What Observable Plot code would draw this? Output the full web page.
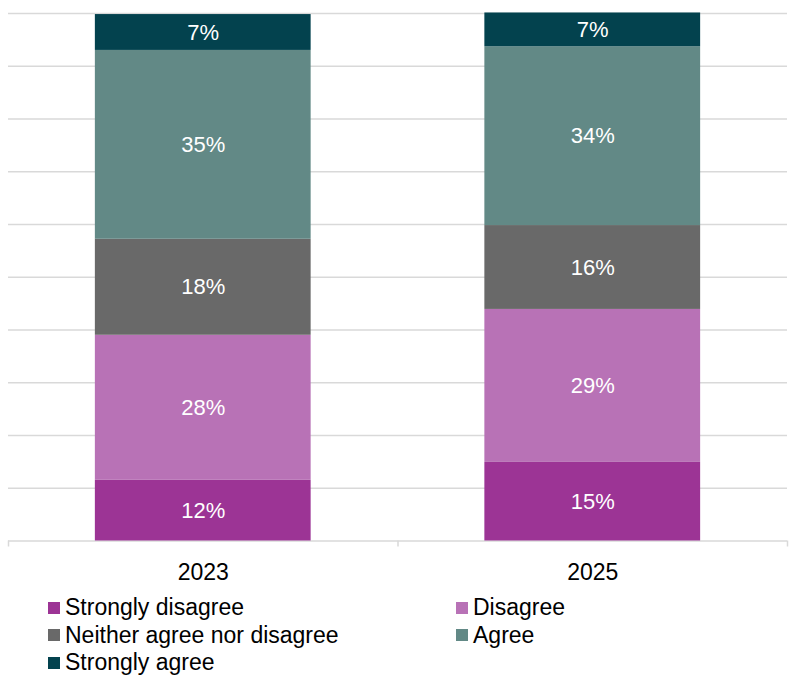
<!DOCTYPE html>
<html>
<head>
<meta charset="utf-8">
<script src="https://cdn.jsdelivr.net/npm/d3@7"></script>
<script src="https://cdn.jsdelivr.net/npm/@observablehq/plot@0.6"></script>
<style>
  html, body { margin: 0; padding: 0; background: #fff; }
  body { width: 794px; font-family: "Liberation Sans", Arial, sans-serif; }
  #legend { display: grid; grid-template-columns: 408px 386px; font-size: 23px; line-height: 27.5px; color: #000; }
  .item { display: flex; align-items: center; padding-left: 48px; }
  .sw { width: 12px; height: 12px; margin-right: 5px; flex: none; }
</style>
</head>
<body>
<div id="chart"></div>
<div id="legend"></div>
<script>
const years = ["2023", "2025"];
const categories = ["Strongly disagree", "Disagree", "Neither agree nor disagree", "Agree", "Strongly agree"];
const colors = ["#9c3495", "#b872b6", "#696969", "#628986", "#03424e"];
const values2023 = [11.5, 27.5, 18.2, 35.8, 6.8];
const values2025 = [14.9, 29.0, 15.9, 33.9, 6.4];
const labels2023 = ["12%", "28%", "18%", "35%", "7%"];
const labels2025 = ["15%", "29%", "16%", "34%", "7%"];
const gridTicks = [0, 10, 20, 30, 40, 50, 60, 70, 80, 90, 100];
const boundaryTicks = [-0.5, 0.5, 1.5];
const halfBar = 0.277;

const series = [values2023, values2025];
const labels = [labels2023, labels2025];
const data = [];
years.forEach((yr, i) => {
  categories.forEach((c, j) => {
    data.push({i, year: yr, category: c, value: series[i][j], label: labels[i][j]});
  });
});

const plot = Plot.plot({
  width: 794,
  height: 594,
  marginLeft: 8,
  marginRight: 7,
  marginTop: 13,
  marginBottom: 53.5,
  style: {fontFamily: "'Liberation Sans', Arial, sans-serif", background: "#fff"},
  x: {type: "linear", domain: [-0.5, 1.5], axis: null, label: null},
  y: {domain: [0, 100], axis: null, label: null},
  color: {domain: categories, range: colors},
  marks: [
    Plot.gridY({ticks: gridTicks, stroke: "#d9d9d9", strokeOpacity: 1, strokeWidth: 1.5}),
    Plot.axisX({ticks: boundaryTicks, tickSize: 6, tickFormat: () => "", label: null, stroke: "#d9d9d9", strokeWidth: 1.5}),
    Plot.axisX({ticks: [0, 1], tickSize: 0, tickPadding: 23, tickFormat: i => years[i], label: null, fontSize: 23, fill: "#000"}),
    Plot.rectY(data, Plot.stackY({
      x1: d => d.i - halfBar,
      x2: d => d.i + halfBar,
      y: "value",
      fill: "category"
    })),
    Plot.text(data, Plot.stackY({
      x: "i",
      y: "value",
      text: "label",
      fill: "#fff",
      fontSize: 22
    }))
  ]
});
document.getElementById("chart").appendChild(plot);

const legend = document.getElementById("legend");
categories.forEach((c, j) => {
  const item = document.createElement("div");
  item.className = "item";
  const sw = document.createElement("span");
  sw.className = "sw";
  sw.style.background = colors[j];
  const t = document.createElement("span");
  t.textContent = c;
  item.appendChild(sw);
  item.appendChild(t);
  legend.appendChild(item);
});
</script>
</body>
</html>
